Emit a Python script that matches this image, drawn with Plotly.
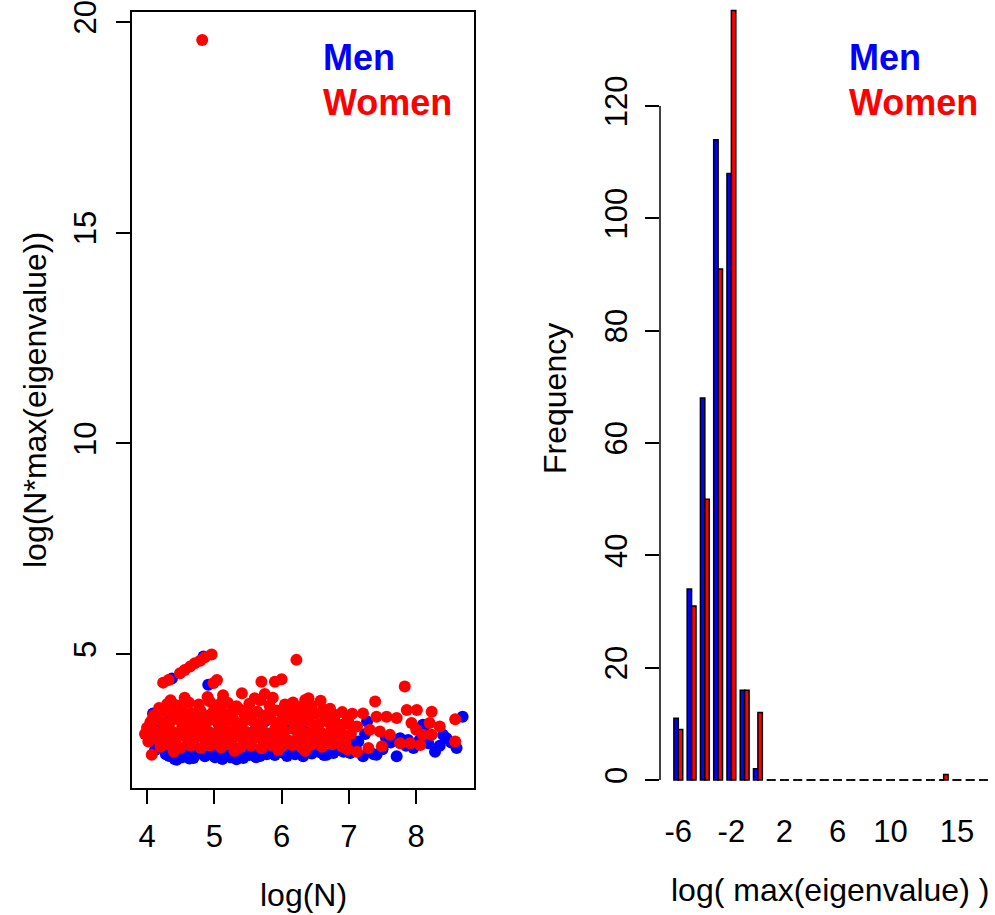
import plotly.graph_objects as go

# ---------------- data ----------------
# Left panel: scatter of log(N) vs log(N*max(eigenvalue))
men_points = [
    (4.05,3.05),(4.09,3.59),(4.12,2.72),(4.14,3.30),(4.18,2.85),(4.22,3.02),(4.26,3.48),(4.28,2.62),
    (4.31,3.15),(4.33,2.58),(4.37,4.42),(4.37,3.83),(4.41,2.51),(4.44,2.49),(4.47,2.66),(4.49,3.63),
    (4.52,2.55),(4.55,3.25),(4.58,2.70),(4.63,2.52),(4.66,2.95),(4.69,2.53),(4.72,2.61),(4.75,3.40),
    (4.78,2.74),(4.84,4.94),(4.86,2.57),(4.89,3.12),(4.91,4.27),(4.95,2.62),(4.98,2.86),(5.01,2.55),
    (5.04,2.57),(5.06,3.35),(5.08,2.68),(5.12,2.51),(5.13,3.91),(5.16,2.60),(5.20,2.73),(5.22,3.05),
    (5.24,2.55),(5.29,2.64),(5.31,3.22),(5.33,2.50),(5.38,2.62),(5.43,2.53),(5.46,3.55),(5.47,2.70),
    (5.50,2.92),(5.52,2.60),(5.57,2.66),(5.60,3.18),(5.62,2.55),(5.68,2.58),(5.73,2.72),(5.75,3.40),
    (5.78,2.62),(5.84,2.68),(5.88,3.05),(5.90,2.60),(5.96,2.75),(6.03,2.65),(6.06,3.28),(6.08,2.58),
    (6.14,2.70),(6.15,3.55),(6.20,2.62),(6.24,2.95),(6.27,2.68),(6.32,2.57),(6.35,3.15),(6.38,2.72),
    (6.45,2.64),(6.48,3.02),(6.52,2.78),(6.58,2.66),(6.63,2.60),(6.67,2.61),(6.72,3.10),(6.77,2.65),
    (6.84,2.72),(6.91,3.32),(6.92,2.68),(7.02,2.65),(7.04,2.96),(7.10,2.78),(7.14,2.92),(7.21,2.57),
    (7.24,3.10),(7.27,3.40),(7.30,2.70),(7.37,2.62),(7.41,2.61),(7.50,2.74),(7.55,3.02),(7.62,2.90),
    (7.71,2.57),(7.76,3.00),(7.85,2.82),(7.88,2.96),(7.96,2.77),(8.05,2.95),(8.10,3.32),(8.13,3.30),
    (8.18,2.88),(8.28,2.68),(8.35,2.82),(8.40,3.08),(8.45,3.00),(8.52,2.90),(8.60,2.77),(8.69,3.51),
]

women_points = [
    (4.82,19.57),
    (4.24,4.32),(4.32,4.38),(4.49,4.54),(4.56,4.62),(4.64,4.70),(4.71,4.78),(4.79,4.84),(4.86,4.92),(4.96,4.99),
    (4.99,4.31),(5.04,4.38),(6.22,4.86),(5.70,4.34),(5.90,4.34),(6.00,4.40),(5.41,4.07),(5.75,4.05),(5.87,3.96),
    (4.56,3.96),(6.17,3.85),(6.35,3.91),(6.58,3.89),(7.39,3.87),(7.83,4.23),(8.23,3.63),(8.58,3.45),(3.97,3.10),(4.07,2.61),
    (7.12,2.68),(7.29,2.77),(7.49,2.81),(7.76,2.88),(7.91,2.88),(8.06,2.84),(8.23,3.08),(8.10,3.08),(8.35,3.28),(8.58,2.92),
    (7.21,3.59),(7.41,3.51),(7.56,3.51),(7.71,3.48),(7.86,3.67),(8.01,3.67),(7.93,3.36),(7.31,3.20),(7.46,3.16),(7.61,3.08),
    (8.20,3.36),(8.00,3.20),
    (4.18,3.72),(4.30,3.81),(4.45,3.78),(4.62,3.85),(4.77,3.80),(4.93,3.88),(5.05,3.79),(5.20,3.84),(5.33,3.76),
    (5.52,3.82),(5.68,3.90),(5.82,3.78),(6.05,3.80),(6.28,3.74),(6.45,3.77),(6.72,3.70),(6.90,3.62),(7.05,3.58),
    (4.10,3.55),(4.24,3.62),(4.38,3.58),(4.52,3.66),(4.66,3.60),(4.80,3.64),(4.95,3.57),(5.10,3.65),(5.24,3.60),
    (5.38,3.68),(5.50,3.58),(5.64,3.63),(5.78,3.56),(5.93,3.66),(6.08,3.60),(6.22,3.55),(6.36,3.62),(6.50,3.58),
    (6.64,3.52),(6.80,3.55),(6.98,3.45),
    (4.05,3.38),(4.20,3.42),(4.33,3.35),(4.47,3.44),(4.60,3.39),(4.74,3.45),(4.88,3.36),(5.02,3.43),(5.15,3.38),
    (5.28,3.46),(5.42,3.37),(5.56,3.42),(5.70,3.35),(5.85,3.44),(6.00,3.38),(6.13,3.43),(6.27,3.36),(6.41,3.40),
    (6.55,3.33),(6.70,3.38),(6.85,3.30),(7.00,3.35),(7.12,3.28),
    (4.10,3.18),(4.25,3.22),(4.38,3.15),(4.52,3.24),(4.65,3.17),(4.79,3.22),(4.93,3.14),(5.07,3.20),(5.20,3.16),
    (5.34,3.24),(5.48,3.15),(5.62,3.21),(5.76,3.13),(5.90,3.20),(6.04,3.16),(6.18,3.22),(6.32,3.14),(6.46,3.18),
    (6.60,3.12),(6.74,3.20),(6.88,3.15),(7.03,3.10),
    (4.15,2.98),(4.28,3.02),(4.42,2.95),(4.56,3.04),(4.70,2.97),(4.84,3.01),(4.98,2.94),(5.12,3.00),(5.26,2.96),
    (5.40,3.03),(5.54,2.95),(5.68,3.00),(5.82,2.93),(5.96,2.99),(6.10,2.95),(6.24,3.02),(6.38,2.94),(6.52,2.98),
    (6.66,2.92),(6.80,2.97),(6.95,2.90),
    (4.20,2.80),(4.35,2.84),(4.50,2.78),(4.65,2.82),(4.80,2.77),(4.94,2.83),(5.10,2.78),(5.25,2.84),(5.40,2.79),
    (5.55,2.82),(5.70,2.76),(5.86,2.83),(6.00,2.80),(6.16,2.84),(6.30,2.78),(6.45,2.85),(6.60,2.80),(6.75,2.86),(6.90,2.80),
    (4.00,3.25),(4.02,2.92),(4.08,3.45),(4.35,3.90),(4.90,3.98),(5.13,4.02),(5.60,3.95),(6.40,3.95),
    (4.40,2.68),(5.30,2.70),(5.95,2.72),(6.35,2.70),(6.98,2.74),
    (4.13,3.08),(4.27,3.30),(4.43,3.48),(4.58,3.52),(4.71,3.30),(4.86,3.50),(5.00,3.70),(5.16,3.52),(5.31,3.32),
    (5.45,3.55),(5.58,3.10),(5.73,3.48),(5.89,3.08),(6.02,3.50),(6.18,3.68),(6.33,3.48),(6.49,3.28),(6.62,3.68),
    (6.78,3.44),(6.93,3.04),(4.30,2.90),(4.62,2.90),(4.90,2.88),(5.18,2.88),(5.48,2.90),(5.78,2.88),(6.08,2.88),
    (6.40,3.06),(6.70,3.06),(4.45,3.07),(4.75,3.08),(5.05,3.08),(5.35,3.10),(5.65,3.30),(5.95,3.30),(6.25,3.52),
]

# Right panel: grouped histogram of log(max(eigenvalue))
bins = list(range(-6, 18))
men_counts = [11, 34, 68, 114, 108, 16, 2] + [0] * 17
women_counts = [9, 31, 50, 91, 137, 16, 12] + [0] * 13 + [1, 0, 0, 0]
hist_tick_vals = [-6, -2, 2, 6, 10, 15]
hist_tick_text = ["-6", "-2", "2", "6", "10", "15"]
freq_ticks = [0, 20, 40, 60, 80, 100, 120]
scatter_xticks = [4, 5, 6, 7, 8]
scatter_yticks = [5, 10, 15, 20]

# ---------------- figure ----------------
W, H = 995, 915
FONT = "Liberation Sans, Arial, sans-serif"
BLUE, RED = "#0000FF", "#FF0000"

def px(x):
    return x / W

def py(y):
    return 1 - y / H

fig = go.Figure()

fig.add_trace(go.Scatter(
    x=[p[0] for p in men_points], y=[p[1] for p in men_points],
    mode="markers", marker=dict(color=BLUE, size=12, line=dict(width=0)),
    xaxis="x", yaxis="y", showlegend=False))
fig.add_trace(go.Scatter(
    x=[p[0] for p in women_points], y=[p[1] for p in women_points],
    mode="markers", marker=dict(color=RED, size=12, line=dict(width=0)),
    xaxis="x", yaxis="y", showlegend=False))

fig.add_trace(go.Bar(x=bins, y=men_counts, marker=dict(color=BLUE, line=dict(color="black", width=1.5)),
                     xaxis="x2", yaxis="y2", showlegend=False))
fig.add_trace(go.Bar(x=bins, y=women_counts, marker=dict(color=RED, line=dict(color="black", width=1.5)),
                     xaxis="x2", yaxis="y2", showlegend=False))

# borders of empty bars (R draws them as short flat segments)
bar_w = 1 / 3
seg_x, seg_y = [], []
for b, m, w in zip(bins, men_counts, women_counts):
    if m == 0:
        seg_x += [b - bar_w, b, None]
        seg_y += [0, 0, None]
    if w == 0:
        seg_x += [b, b + bar_w, None]
        seg_y += [0, 0, None]
fig.add_trace(go.Scatter(x=seg_x, y=seg_y, mode="lines", line=dict(color="black", width=1.5),
                         xaxis="x2", yaxis="y2", showlegend=False, connectgaps=False))

tickfont = dict(family=FONT, size=31, color="black")

fig.update_layout(
    width=W, height=H, margin=dict(l=0, r=0, t=0, b=0, autoexpand=False),
    paper_bgcolor="white", plot_bgcolor="white",
    barmode="group", bargap=1/3, bargroupgap=0,
    font=dict(family=FONT, color="black"),
    xaxis=dict(domain=[px(132), px(474)], range=[3.777, 8.859], anchor="y", automargin=False,
               showline=True, mirror=True, linecolor="black", linewidth=1.5,
               ticks="outside", ticklen=14, tickwidth=1.5, tickcolor="black",
               tickvals=scatter_xticks, tickfont=tickfont, ticklabelstandoff=6,
               showgrid=False, zeroline=False),
    yaxis=dict(domain=[py(788), py(12)], range=[1.819, 20.237], anchor="x", automargin=False,
               showline=True, mirror=True, linecolor="black", linewidth=1.5,
               ticks="outside", ticklen=14, tickwidth=1.5, tickcolor="black",
               tickvals=scatter_yticks, tickfont=tickfont, tickangle=-90, ticklabelstandoff=8,
               showgrid=False, zeroline=False),
    xaxis2=dict(domain=[px(660), 1.0], range=[-7.38, 17.87], anchor="y2", automargin=False,
                showline=False, ticks="", tickvals=hist_tick_vals, ticktext=hist_tick_text,
                tickfont=tickfont, ticklabelstandoff=0, showgrid=False, zeroline=False),
    yaxis2=dict(domain=[py(810), 1.0], range=[-5.34, 138.87], anchor="x2", automargin=False,
                showline=False, ticks="outside", ticklen=14, tickwidth=1.5, tickcolor="black",
                tickvals=freq_ticks, tickfont=tickfont, tickangle=-90, ticklabelstandoff=6,
                showgrid=False, zeroline=False),
)

# y axis line of the histogram spans only the tick range
fig.add_shape(type="line", xref="x2 domain", yref="y2", x0=0, x1=0,
              y0=freq_ticks[0], y1=freq_ticks[-1], line=dict(color="black", width=1.5))

titlefont = dict(family=FONT, size=32, color="black")
fig.add_annotation(text="log(N*max(eigenvalue))", x=px(35), y=py(400), xref="paper", yref="paper",
                   textangle=-90, showarrow=False, font=titlefont, xanchor="center", yanchor="middle")
fig.add_annotation(text="log(N)", x=px(303), y=py(895), xref="paper", yref="paper",
                   showarrow=False, font=titlefont, xanchor="center", yanchor="middle")
fig.add_annotation(text="Frequency", x=px(555), y=py(399), xref="paper", yref="paper",
                   textangle=-90, showarrow=False, font=titlefont, xanchor="center", yanchor="middle")
fig.add_annotation(text="log( max(eigenvalue) )", x=px(830), y=py(890), xref="paper", yref="paper",
                   showarrow=False, font=titlefont, xanchor="center", yanchor="middle")

legfont = dict(family=FONT, size=36)
for x0 in (321, 847):
    fig.add_annotation(text="<b>Men</b>", x=px(x0), y=py(57), xref="paper", yref="paper",
                       showarrow=False, font=dict(legfont, color=BLUE), xanchor="left", yanchor="middle")
    fig.add_annotation(text="<b>Women</b>", x=px(x0), y=py(103), xref="paper", yref="paper",
                       showarrow=False, font=dict(legfont, color=RED), xanchor="left", yanchor="middle")

fig.write_html(
    "out.html",
    config={"displayModeBar": False},
    post_script="document.body.style.margin='0';document.body.style.padding='0';"
                "document.body.style.overflow='hidden';",
)
